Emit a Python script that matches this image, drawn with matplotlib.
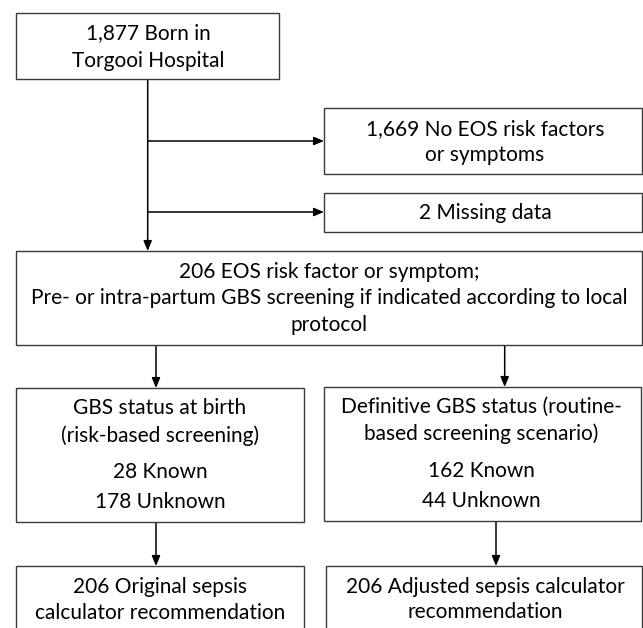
import matplotlib.pyplot as plt
from matplotlib.patches import Rectangle

plt.rcParams['font.family'] = ['Lato', 'DejaVu Sans']

# flowchart content
box_texts = [
    ['1,877 Born in', 'Torgooi Hospital'],
    ['1,669 No EOS risk factors', 'or symptoms'],
    ['2 Missing data'],
    ['206 EOS risk factor or symptom;',
     'Pre- or intra-partum GBS screening if indicated according to local',
     'protocol'],
    ['GBS status at birth', '(risk-based screening)', '28 Known', '178 Unknown'],
    ['Definitive GBS status (routine-', 'based screening scenario)', '162 Known', '44 Unknown'],
    ['206 Original sepsis', 'calculator recommendation'],
    ['206 Adjusted sepsis calculator', 'recommendation'],
]

# layout in pixel coordinates: (x0, y0, x1, y1)
boxes = [
    (15.5, 12.5, 279, 79),
    (324, 108, 641.5, 174),
    (324, 193, 641.5, 232),
    (15.5, 251, 641.5, 345),
    (15.5, 388, 304, 522),
    (324, 387, 641, 521),
    (15.5, 566, 304, 640),
    (325.5, 566, 641.5, 640),
]
line_y = [
    [33, 61],
    [129, 155],
    [213],
    [272, 298, 325],
    [408, 436, 472, 502],
    [407, 434, 471, 501],
    [587, 613],
    [587, 612],
]
text_x = [148, 485, 485, 329, 160, 481, 160, 485]

# arrows: (x_start, y_start, x_end, y_end)
arrows = [
    (147.7, 79, 147.7, 251),
    (147.7, 141, 324, 141),
    (147.7, 212, 324, 212),
    (156, 345, 156, 388),
    (504.7, 345, 504.7, 387),
    (156, 522, 156, 566),
    (496, 521, 496, 566),
]

fig = plt.figure(figsize=(6.43, 6.28), dpi=100)
ax = fig.add_axes([0, 0, 1, 1])
ax.set_xlim(0, 643)
ax.set_ylim(628, 0)
ax.axis('off')

for (x0, y0, x1, y1), lines, ys, tx in zip(boxes, box_texts, line_y, text_x):
    ax.add_patch(Rectangle((x0, y0), x1 - x0, y1 - y0, facecolor='white',
                           edgecolor='#3a3a3a', linewidth=1.0, zorder=2))
    for s, y in zip(lines, ys):
        ax.text(tx, y, s, ha='center', va='center', fontsize=15, color='black', zorder=3)

for xs, ys, xe, ye in arrows:
    ax.annotate('', xy=(xe, ye), xytext=(xs, ys),
                arrowprops=dict(arrowstyle='-|>,head_length=0.6,head_width=0.25',
                                color='black', lw=1.1, shrinkA=0, shrinkB=0,
                                mutation_scale=10), zorder=1)

plt.savefig('out.png', dpi=100, facecolor='white')
